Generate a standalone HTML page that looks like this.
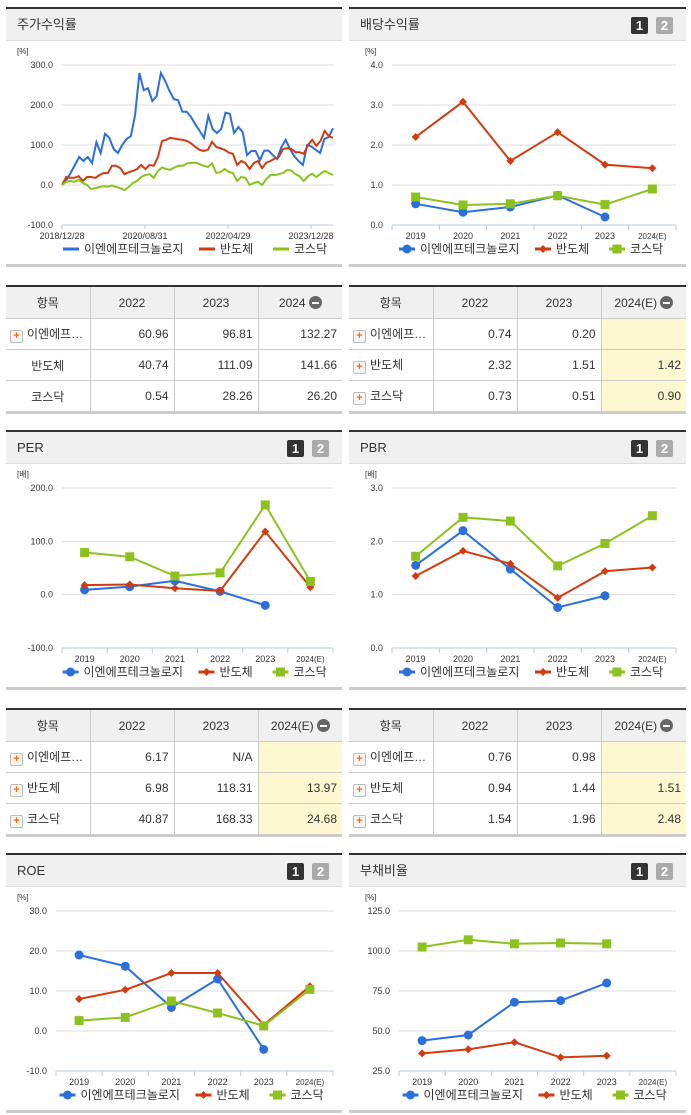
<!DOCTYPE html>
<html><head><meta charset="utf-8">
<style>
body{margin:0;width:691px;height:1115px;background:#fff;position:relative;overflow:hidden;font-family:"Liberation Sans","Noto Sans CJK KR",sans-serif;color:#333}
.panel{position:absolute;border-top:2px solid #333;border-bottom:3px solid #ccc;box-sizing:border-box}
.hdr{height:31px;background:#f0f0f0;border-bottom:1px solid #ddd;font-size:13px;line-height:31px;padding-left:11px;position:relative}
.b1,.b2{position:absolute;top:8px;width:17px;height:17px;border-radius:2px;color:#fff;font-weight:bold;font-size:13px;line-height:17px;text-align:center}
.b1{right:38px;background:#333}.b2{right:13px;background:#aaa}
table{position:absolute;border-collapse:collapse;border-top:2px solid #333;border-bottom:3px solid #ccc;font-size:12px;table-layout:fixed}
th{background:#f0f0f0;font-weight:normal;height:31px;border:1px solid #ccc;border-top:none;padding:0}
td{height:30px;border:1px solid #ccc;text-align:right;padding:0 5px 0 0}
tr th:first-child,tr td:first-child{border-left:none}tr th:last-child,tr td:last-child{border-right:none}
td.n{text-align:left;padding-left:4px}td.c{text-align:center;padding:0}
.pl{display:inline-block;width:11px;height:11px;border:1px solid #bbb;border-radius:2px;background:#f6f6f6;color:#f60;font-size:11px;line-height:11px;text-align:center;font-weight:bold;vertical-align:-1px;margin-right:4px}
.mi{display:inline-block;width:13px;height:13px;border-radius:50%;background:#666;vertical-align:-2px;position:relative;margin-left:3px}
.mi:after{content:"";position:absolute;left:3px;top:6px;width:7px;height:2px;background:#fff}
.y{background:#fdf8d0}
svg{position:absolute;left:0;top:0}
</style></head><body>
<div class="panel" style="left:6px;top:7px;width:336px;height:260px"><div class="hdr">주가수익률</div></div>
<div class="panel" style="left:349px;top:7px;width:337px;height:260px"><div class="hdr">배당수익률<span class="b1">1</span><span class="b2">2</span></div></div>
<div class="panel" style="left:6px;top:430px;width:336px;height:260px"><div class="hdr">PER<span class="b1">1</span><span class="b2">2</span></div></div>
<div class="panel" style="left:349px;top:430px;width:337px;height:260px"><div class="hdr">PBR<span class="b1">1</span><span class="b2">2</span></div></div>
<div class="panel" style="left:6px;top:853px;width:336px;height:260px"><div class="hdr">ROE<span class="b1">1</span><span class="b2">2</span></div></div>
<div class="panel" style="left:349px;top:853px;width:337px;height:260px"><div class="hdr">부채비율<span class="b1">1</span><span class="b2">2</span></div></div>

<table style="left:6px;top:285px;width:336px">
<colgroup><col style="width:84px"><col style="width:84px"><col style="width:84px"><col style="width:84px"></colgroup>
<tr><th>항목</th><th>2022</th><th>2023</th><th>2024<span class="mi"></span></th></tr>
<tr><td class="n"><span class="pl">+</span>이엔에프…</td><td>60.96</td><td>96.81</td><td>132.27</td></tr>
<tr><td class="c">반도체</td><td>40.74</td><td>111.09</td><td>141.66</td></tr>
<tr><td class="c">코스닥</td><td>0.54</td><td>28.26</td><td>26.20</td></tr></table>

<table style="left:349px;top:285px;width:337px">
<colgroup><col style="width:84px"><col style="width:84px"><col style="width:84px"><col style="width:85px"></colgroup>
<tr><th>항목</th><th>2022</th><th>2023</th><th>2024(E)<span class="mi"></span></th></tr>
<tr><td class="n"><span class="pl">+</span>이엔에프…</td><td>0.74</td><td>0.20</td><td class="y"></td></tr>
<tr><td class="n"><span class="pl">+</span>반도체</td><td>2.32</td><td>1.51</td><td class="y">1.42</td></tr>
<tr><td class="n"><span class="pl">+</span>코스닥</td><td>0.73</td><td>0.51</td><td class="y">0.90</td></tr></table>

<table style="left:6px;top:708px;width:336px">
<colgroup><col style="width:84px"><col style="width:84px"><col style="width:84px"><col style="width:84px"></colgroup>
<tr><th>항목</th><th>2022</th><th>2023</th><th>2024(E)<span class="mi"></span></th></tr>
<tr><td class="n"><span class="pl">+</span>이엔에프…</td><td>6.17</td><td>N/A</td><td class="y"></td></tr>
<tr><td class="n"><span class="pl">+</span>반도체</td><td>6.98</td><td>118.31</td><td class="y">13.97</td></tr>
<tr><td class="n"><span class="pl">+</span>코스닥</td><td>40.87</td><td>168.33</td><td class="y">24.68</td></tr></table>

<table style="left:349px;top:708px;width:337px">
<colgroup><col style="width:84px"><col style="width:84px"><col style="width:84px"><col style="width:85px"></colgroup>
<tr><th>항목</th><th>2022</th><th>2023</th><th>2024(E)<span class="mi"></span></th></tr>
<tr><td class="n"><span class="pl">+</span>이엔에프…</td><td>0.76</td><td>0.98</td><td class="y"></td></tr>
<tr><td class="n"><span class="pl">+</span>반도체</td><td>0.94</td><td>1.44</td><td class="y">1.51</td></tr>
<tr><td class="n"><span class="pl">+</span>코스닥</td><td>1.54</td><td>1.96</td><td class="y">2.48</td></tr></table>

<svg id="s" width="691" height="1115" xmlns="http://www.w3.org/2000/svg" font-family="Liberation Sans, Noto Sans CJK KR, sans-serif"></svg>
<script>
const years=["2019","2020","2021","2022","2023","2024(E)"];
const seriesNames=["이엔에프테크놀로지","반도체","코스닥"];
const stockDates=["2018/12/28","2020/08/31","2022/04/29","2023/12/28"];
const stockBlue=[0,12,30,50,70,60,70,55,107,80,128,118,90,80,100,115,122,175,280,237,242,210,222,280,260,235,215,212,183,183,170,152,135,118,173,140,130,140,181,178,130,145,132,75,85,85,62,86,86,75,65,95,113,90,72,60,50,100,96,88,80,115,120,142];
const stockRed=[0,20,18,18,22,10,20,20,18,25,30,30,48,48,42,27,32,35,40,50,40,50,48,70,110,113,118,116,114,113,110,104,95,88,85,88,108,95,92,88,81,78,50,60,55,40,55,60,42,56,60,66,70,90,92,90,82,82,78,100,113,98,110,135,122,118];
const stockGreen=[0,8,10,8,13,5,0,-10,-8,-5,-3,-4,-1,-5,-8,-13,-5,5,10,20,25,27,18,35,44,40,38,44,48,48,54,55,56,52,48,45,54,30,32,40,33,30,10,20,18,0,5,8,0,15,25,25,27,30,38,36,27,22,10,22,28,20,28,35,30,25];
const stockTicks=[300,200,100,0,-100];
const divBlue=[0.53,0.32,0.45,0.74,0.20,null];
const divRed=[2.20,3.08,1.60,2.32,1.51,1.42];
const divGreen=[0.70,0.50,0.53,0.73,0.51,0.90];
const divTicks=[4,3,2,1,0];
const perBlue=[9,15,26,6.17,-20,null];
const perRed=[18,19,12,6.98,118.31,13.97];
const perGreen=[79,71,35,40.87,168.33,24.68];
const perTicks=[200,100,0,-100];
const pbrBlue=[1.55,2.20,1.48,0.76,0.98,null];
const pbrRed=[1.35,1.82,1.58,0.94,1.44,1.51];
const pbrGreen=[1.72,2.45,2.38,1.54,1.96,2.48];
const pbrTicks=[3,2,1,0];
const roeBlue=[19,16.2,5.9,13,-4.6,null];
const roeRed=[8,10.3,14.5,14.5,1.5,11.2];
const roeGreen=[2.6,3.4,7.5,4.5,1.3,10.4];
const roeTicks=[30,20,10,0,-10];
const debtBlue=[44,47.5,68,69,80,null];
const debtRed=[36,38.5,43,33.5,34.5,null];
const debtGreen=[102.5,107,104.5,105,104.5,null];
const debtTicks=[125,100,75,50,25];

const S=document.getElementById('s');const NS="http://www.w3.org/2000/svg";
const COL=["#2a6fdb","#d13b0f","#8cc21e"];
function el(t,a,p){const e=document.createElementNS(NS,t);for(const k in a)e.setAttribute(k,a[k]);(p||S).appendChild(e);return e;}
function txt(x,y,s,sz,anc,name){const t=el('text',{x:x,y:y,'font-size':sz,'text-anchor':anc,fill:'#333'});t.textContent=s;

return t;}
function marker(k,x,y,g){let m;
if(k==0)m=el('circle',{cx:x,cy:y,r:4.5,fill:COL[0]},g);
else if(k==1)m=el('path',{d:`M${x} ${y-4}L${x+4} ${y}L${x} ${y+4}L${x-4} ${y}Z`,fill:COL[1]},g);
else m=el('rect',{x:x-4.5,y:y-4.5,width:9,height:9,fill:COL[2]},g);

}
function axes(L,R,T,B,ticks,fmt,unit){
 const ymax=ticks[0],ymin=ticks[ticks.length-1];
 const ys=v=>T+(ymax-v)/(ymax-ymin)*(B-T);
 ticks.forEach(t=>{if(t!=ymin){const g=el('line',{x1:L,x2:R,y1:ys(t),y2:ys(t),stroke:'#ddd'});
 
 }
 txt(L-9,ys(t)+3,t.toFixed(1),9,'end','y-tick-label');});
 txt(L-45+(fmt||0),T-11,unit,8,'start','y-axis-unit');
 const ax=el('line',{x1:L,x2:R,y1:B,y2:B,stroke:'#b8c8dc'});
 
 
 return ys;}
function legend(cx,y,kinds){
 const w=[120,58,56];let x=cx-117;
 for(let k=0;k<3;k++){const g=el('g',{});
 
 
 el('line',{x1:x,x2:x+16,y1:y-4,y2:y-4,stroke:COL[k],'stroke-width':3},g);
 if(kinds)marker(k,x+8,y-4,g);
 const t=el('text',{x:x+21,y:y,'font-size':12,fill:'#333'},g);t.textContent=seriesNames[k];x+=w[k]+16;}}
function catChart(L,R,T,B,ticks,data,unit,lx){
 const ys=axes(L,R,T,B,ticks,lx,unit);
 const n=years.length,cw=(R-L)/n;const xs=i=>L+cw*(i+0.5);
 for(let i=0;i<=n;i++){const tk=el('line',{x1:L+cw*i,x2:L+cw*i,y1:B,y2:B+5,stroke:'#b8c8dc'});
 
 }
 years.forEach((y,i)=>txt(xs(i),B+14,y,i==5?8:9,'middle','x-tick-label'));
 data.forEach((arr,k)=>{let d="";arr.forEach((v,i)=>{if(v!==null)d+=(d?"L":"M")+xs(i)+" "+ys(v);});
 const p=el('path',{d:d,fill:'none',stroke:COL[k],'stroke-width':2});
 
 
 arr.forEach((v,i)=>{if(v!==null)marker(k,xs(i),ys(v));});});
 legend((L+R)/2-18,B+28,true);}
(function(){const L=62,R=333,T=65,B=225;const ys=axes(L,R,T,B,stockTicks,0,'[%]');
 stockDates.forEach((d,i)=>{const x=L+i*(R-L-22)/3;txt(x,B+14,d,9,'middle','x-tick-label');
 const tk=el('line',{x1:x,x2:x,y1:B,y2:B+4,stroke:'#b8c8dc'});
 
 });
 [stockBlue,stockRed,stockGreen].forEach((arr,k)=>{const dx=(R-L)/(arr.length-1);let d="";
 arr.forEach((v,i)=>{d+=(i?"L":"M")+(L+i*dx).toFixed(1)+" "+ys(v).toFixed(1);});
 const p=el('path',{d:d,fill:'none',stroke:COL[k],'stroke-width':2});
 
 });
 legend(180,253,false);})();
catChart(392,676,65,225,divTicks,[divBlue,divRed,divGreen],'[%]',18);
catChart(62,333,488,648,perTicks,[perBlue,perRed,perGreen],'[배]',0);
catChart(392,676,488,648,pbrTicks,[pbrBlue,pbrRed,pbrGreen],'[배]',18);
catChart(56,333,911,1071,roeTicks,[roeBlue,roeRed,roeGreen],'[%]',6);
catChart(399,676,911,1071,debtTicks,[debtBlue,debtRed,debtGreen],'[%]',11);
</script>
</body></html>
